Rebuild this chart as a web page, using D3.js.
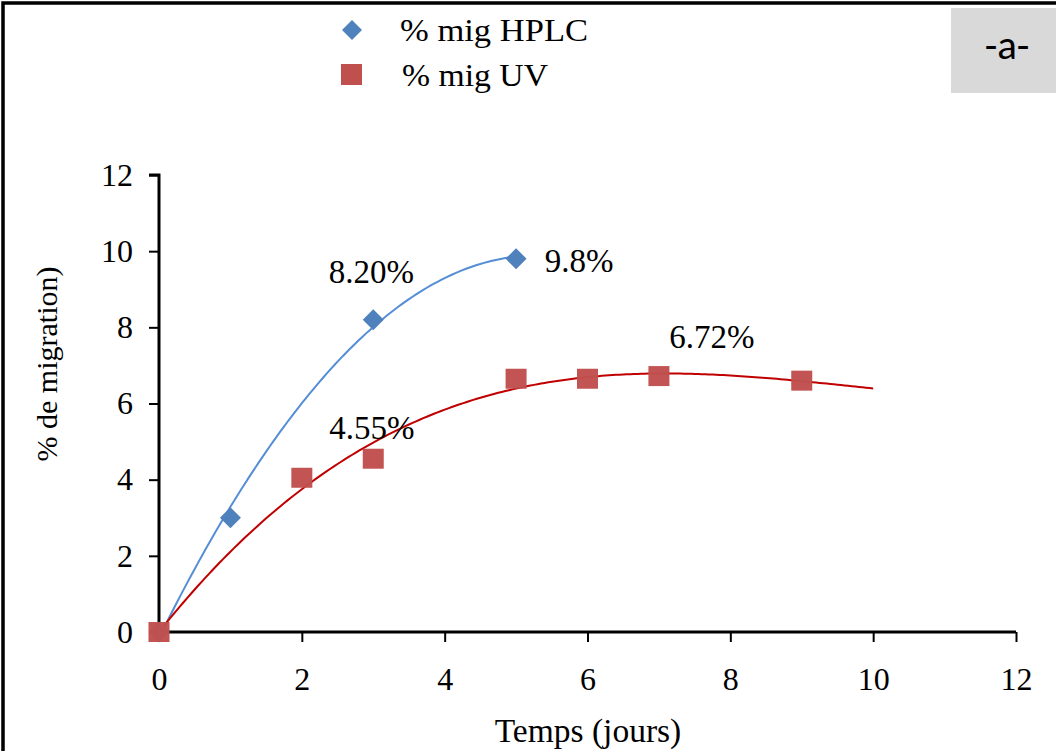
<!DOCTYPE html>
<html><head><meta charset="utf-8">
<script src="https://cdn.jsdelivr.net/npm/d3@7"></script>
<style>body{margin:0;background:#fff}svg{display:block}</style>
</head><body>
<script>
const hplcX = [0, 1, 3, 5];
const hplcY = [0, 3, 8.2, 9.8];
const uvX = [0, 2, 3, 5, 6, 7, 9];
const uvY = [0, 4.05, 4.55, 6.65, 6.65, 6.72, 6.6];
const xTicks = [0, 2, 4, 6, 8, 10, 12];
const yTicks = [0, 2, 4, 6, 8, 10, 12];
const labels = [
  {text: "8.20%", x: 3, y: 8.2, dx: -2, dy: -37},
  {text: "9.8%", x: 5, y: 9.8, dx: 63, dy: 13},
  {text: "6.72%", x: 7, y: 6.72, dx: 53, dy: -28},
  {text: "4.55%", x: 3, y: 4.55, dx: -1.5, dy: -20}
];
const seriesNames = ["% mig HPLC", "% mig UV"];

const W = 1056, H = 751;
const svg = d3.select("body").append("svg").attr("width", W).attr("height", H);
svg.append("rect").attr("x", 3).attr("y", 3).attr("width", W + 10).attr("height", H + 10)
  .attr("fill", "#fff").attr("stroke", "#000").attr("stroke-width", 3.5);

const x = d3.scaleLinear().domain([0, 12]).range([159, 1016]);
const y = d3.scaleLinear().domain([0, 12]).range([632, 175]);

// polynomial least squares (trend lines)
function polyfit(xs, ys, deg, zeroIntercept) {
  const p0 = zeroIntercept ? 1 : 0;
  const n = deg + 1 - p0;
  const A = Array.from({length: n}, () => new Array(n + 1).fill(0));
  for (let i = 0; i < xs.length; i++) {
    for (let r = 0; r < n; r++) {
      for (let c = 0; c < n; c++) A[r][c] += Math.pow(xs[i], r + p0) * Math.pow(xs[i], c + p0);
      A[r][n] += Math.pow(xs[i], r + p0) * ys[i];
    }
  }
  for (let k = 0; k < n; k++) {
    let m = k;
    for (let r = k + 1; r < n; r++) if (Math.abs(A[r][k]) > Math.abs(A[m][k])) m = r;
    [A[k], A[m]] = [A[m], A[k]];
    for (let r = 0; r < n; r++) if (r !== k) {
      const f = A[r][k] / A[k][k];
      for (let c = k; c <= n; c++) A[r][c] -= f * A[k][c];
    }
  }
  const coef = A.map((row, i) => row[n] / row[i]);
  return v => coef.reduce((s, c, i) => s + c * Math.pow(v, i + p0), 0);
}
const fH = polyfit(hplcX, hplcY, 2, false);
const fU = polyfit(uvX, uvY, 3, true);
const line = d3.line().x(d => x(d[0])).y(d => y(d[1]));
const curveH = d3.range(0, 5.001, 0.05).map(v => [v, fH(v)]);
const curveU = d3.range(0, 10.001, 0.05).map(v => [v, fU(v)]);

const serif = "'Liberation Serif','Times New Roman',serif";

// axes
const xAxis = d3.axisBottom(x).tickValues(xTicks).tickSize(10).tickPadding(25).tickFormat(d3.format("d"));
const yAxis = d3.axisLeft(y).tickValues(yTicks).tickSize(10).tickPadding(16).tickFormat(d3.format("d"));
const gx = svg.append("g").attr("transform", `translate(0,${y(0)})`).call(xAxis);
const gy = svg.append("g").attr("transform", `translate(${x(0)},0)`).call(yAxis);
[gx, gy].forEach(g => {
  g.select(".domain").attr("stroke", "#000").attr("stroke-width", 3);
  g.selectAll(".tick line").attr("stroke", "#000").attr("stroke-width", 2);
  g.selectAll("text").attr("font-family", serif).attr("font-size", 32).attr("fill", "#000");
});
gy.select(".domain").attr("d", `M-10,${y(12)}H0V${y(0)}`);
gx.select(".domain").attr("d", `M0,0H${x(12) - x(0)}`).attr("transform", `translate(${x(0)},0)`);

svg.append("path").datum(curveH).attr("d", line).attr("fill", "none").attr("stroke", "#558ed5").attr("stroke-width", 2);
svg.append("path").datum(curveU).attr("d", line).attr("fill", "none").attr("stroke", "#c00000").attr("stroke-width", 2);

const diamond = s => `M0,${-s}L${s},0L0,${s}L${-s},0Z`;
svg.append("g").selectAll("path").data(hplcX.map((v, i) => [v, hplcY[i]])).join("path")
  .attr("transform", d => `translate(${x(d[0])},${y(d[1])})`).attr("d", diamond(10.5)).attr("fill", "#4f81bd");
svg.append("g").selectAll("rect").data(uvX.map((v, i) => [v, uvY[i]])).join("rect")
  .attr("x", d => x(d[0]) - 10.5).attr("y", d => y(d[1]) - 10).attr("width", 21).attr("height", 20)
  .attr("fill", "#c0504d").attr("opacity", 0.97);

svg.append("g").selectAll("text").data(labels).join("text")
  .attr("x", d => x(d.x) + d.dx).attr("y", d => y(d.y) + d.dy).attr("text-anchor", "middle")
  .attr("font-family", serif).attr("font-size", 33).text(d => d.text);

// axis titles
svg.append("text").attr("x", 588).attr("y", 742).attr("text-anchor", "middle")
  .attr("font-family", serif).attr("font-size", 33.5).text("Temps (jours)");
svg.append("text").attr("transform", "translate(57,364) rotate(-90)").attr("text-anchor", "middle")
  .attr("font-family", serif).attr("font-size", 30).text("% de migration)");

// legend
const lg = svg.append("g");
lg.append("path").attr("transform", "translate(352,30)").attr("d", diamond(10)).attr("fill", "#4f81bd");
lg.append("rect").attr("x", 341).attr("y", 64).attr("width", 21).attr("height", 21).attr("fill", "#c0504d");
lg.append("text").attr("x", 400).attr("y", 41).attr("font-family", serif).attr("font-size", 32)
  .attr("textLength", 188).attr("lengthAdjust", "spacingAndGlyphs").text(seriesNames[0]);
lg.append("text").attr("x", 402).attr("y", 86).attr("font-family", serif).attr("font-size", 32)
  .attr("textLength", 146).attr("lengthAdjust", "spacingAndGlyphs").text(seriesNames[1]);

// panel tag
svg.append("rect").attr("x", 951).attr("y", 8).attr("width", 105).attr("height", 85).attr("fill", "#d9d9d9");
svg.append("text").attr("x", 1007).attr("y", 59).attr("text-anchor", "middle")
  .attr("font-family", "Carlito, 'Open Sans', sans-serif").attr("font-size", 41).text("-a-");
</script>
</body></html>
